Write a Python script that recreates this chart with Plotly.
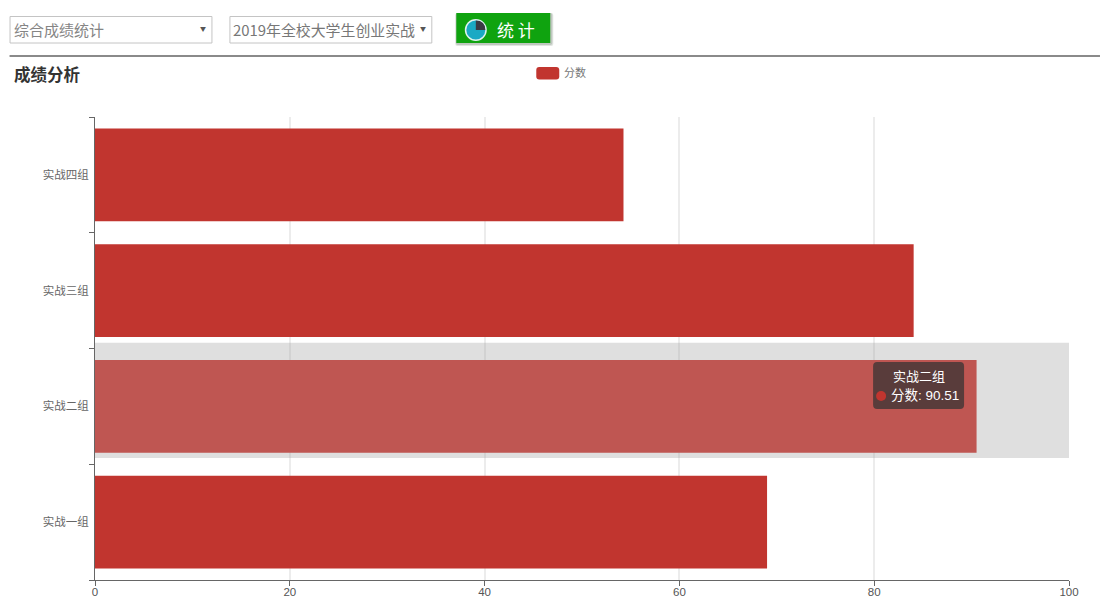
import plotly.graph_objects as go

categories = ["实战一组", "实战二组", "实战三组", "实战四组"]
scores = [69.0, 90.51, 84.05, 54.26]
highlighted = "实战二组"
axis_max = 100
x_ticks = [0, 20, 40, 60, 80, 100]
series_name = "分数"
page_title = "成绩分析"
select_labels = ["综合成绩统计", "2019年全校大学生创业实战"]
button_label = "统 计"

W, H = 1100, 597
L, R, T, B = 94.5, 1069, 117, 580
FONT = "Noto Sans CJK SC, Liberation Sans, sans-serif"
LATIN = "Liberation Sans, Noto Sans CJK SC, sans-serif"
RED = "#c1352f"
RED_HI = "#bf5652"


def px(x):
    return (x - L) / (R - L)


def py(y):
    return (B - y) / (B - T)


shapes = []
annotations = []


def rect(x0, y0, x1, y1, fill="rgba(0,0,0,0)", line=None, width=1):
    shapes.append(dict(type="rect", xref="paper", yref="paper",
                       x0=px(x0), x1=px(x1), y0=py(y0), y1=py(y1),
                       fillcolor=fill, line=dict(color=line or fill, width=width if line else 0)))


def round_rect(x0, y0, x1, y1, r, fill):
    p = (f"M {px(x0 + r)} {py(y0)} L {px(x1 - r)} {py(y0)} "
         f"Q {px(x1)} {py(y0)} {px(x1)} {py(y0 + r)} L {px(x1)} {py(y1 - r)} "
         f"Q {px(x1)} {py(y1)} {px(x1 - r)} {py(y1)} L {px(x0 + r)} {py(y1)} "
         f"Q {px(x0)} {py(y1)} {px(x0)} {py(y1 - r)} L {px(x0)} {py(y0 + r)} "
         f"Q {px(x0)} {py(y0)} {px(x0 + r)} {py(y0)} Z")
    shapes.append(dict(type="path", xref="paper", yref="paper", path=p,
                       fillcolor=fill, line=dict(width=0)))


def circle(cx, cy, r, fill):
    shapes.append(dict(type="circle", xref="paper", yref="paper",
                       x0=px(cx - r), x1=px(cx + r), y0=py(cy - r), y1=py(cy + r),
                       fillcolor=fill, line=dict(width=0)))


def text(x, y, s, size, color, anchor="left", font=FONT, bold=False):
    annotations.append(dict(xref="paper", yref="paper", x=px(x), y=py(y - 1), text=f"<b>{s}</b>" if bold else s,
                            showarrow=False, xanchor=anchor, yanchor="middle",
                            font=dict(size=size, color=color, family=font),
                            borderpad=0, borderwidth=0))


# toolbar
rect(9.5, 16.5, 211.5, 43, "#ffffff", "#c4c4c4")
text(13, 30, select_labels[0], 15, "#858585")
text(203, 29.5, "▼", 6, "#555555", "center")
rect(229.5, 16.5, 431.5, 43, "#ffffff", "#c4c4c4")
text(233, 30, select_labels[1], 14.9, "#777777")
text(423, 29.5, "▼", 6, "#555555", "center")
round_rect(455, 13, 553, 46, 2, "rgba(90,110,90,0.18)")
round_rect(455.5, 13, 552, 45, 2, "rgba(90,110,90,0.25)")
rect(456, 13, 550, 43, "#0fa30f")
circle(475.5, 30, 11, "#dff2f0")
circle(475.5, 30, 9.5, "#1aa9c4")
shapes.append(dict(type="path", xref="paper", yref="paper",
                   path=(f"M {px(475.5)} {py(30)} L {px(475.5)} {py(20.5)} "
                         f"Q {px(485)} {py(20.5)} {px(485)} {py(30)} Z"),
                   fillcolor="#3a3a44", line=dict(width=0)))
text(516, 30, button_label, 17, "#ffffff", "center")
rect(9, 55, W, 57, "#8a8a8a")

# heading and legend
text(13.5, 75, page_title, 16.5, "#333333", bold=True)
round_rect(536, 67, 559, 79.5, 3, RED)
text(564, 73, series_name, 11, "#777777")

# tooltip
round_rect(873, 362, 964, 409, 4, "rgba(50,50,50,0.72)")
text(918.5, 377, highlighted, 13, "#ffffff", "center", LATIN)
circle(881, 396, 5, RED)
text(891, 396, f"{series_name}: {scores[categories.index(highlighted)]}", 13.5, "#ffffff", "left", LATIN)

fig = go.Figure()
fig.add_bar(y=[highlighted], x=[axis_max], orientation="h", width=0.995, offset=-0.445,
            marker=dict(color="rgba(150,150,150,0.3)", line=dict(width=0)),
            hoverinfo="skip", showlegend=False)
fig.add_bar(y=categories, x=scores, orientation="h", width=0.8, name=series_name,
            marker=dict(color=[RED_HI if c == highlighted else RED for c in categories],
                        line=dict(width=0)),
            showlegend=False)
fig.update_layout(
    width=W, height=H, autosize=False, barmode="overlay",
    margin=dict(l=L, r=W - R, t=T, b=H - B, pad=0),
    paper_bgcolor="#ffffff", plot_bgcolor="#ffffff",
    font=dict(family=FONT, color="#555555", size=12),
    xaxis=dict(range=[0, axis_max], tickvals=x_ticks, showgrid=True, gridcolor="#ececec",
               gridwidth=2, zeroline=False, showline=True, linecolor="#666666", linewidth=1,
               ticks="outside", ticklen=5, tickcolor="#666666", ticklabelstandoff=-4,
               tickfont=dict(size=11.5, color="#555555", family=LATIN), automargin=False),
    yaxis=dict(type="category", categoryorder="array", categoryarray=categories,
               showgrid=False, zeroline=False, showline=True, linecolor="#666666", linewidth=1,
               ticks="outside", ticklen=5, tickcolor="#666666", tickson="boundaries",
               ticklabelstandoff=3,
               tickfont=dict(size=11.5, color="#666666", family=FONT), automargin=False),
    shapes=shapes, annotations=annotations,
)
fig.write_html("out.html", config=dict(displayModeBar=False),
               post_script="document.body.style.margin='0';")
